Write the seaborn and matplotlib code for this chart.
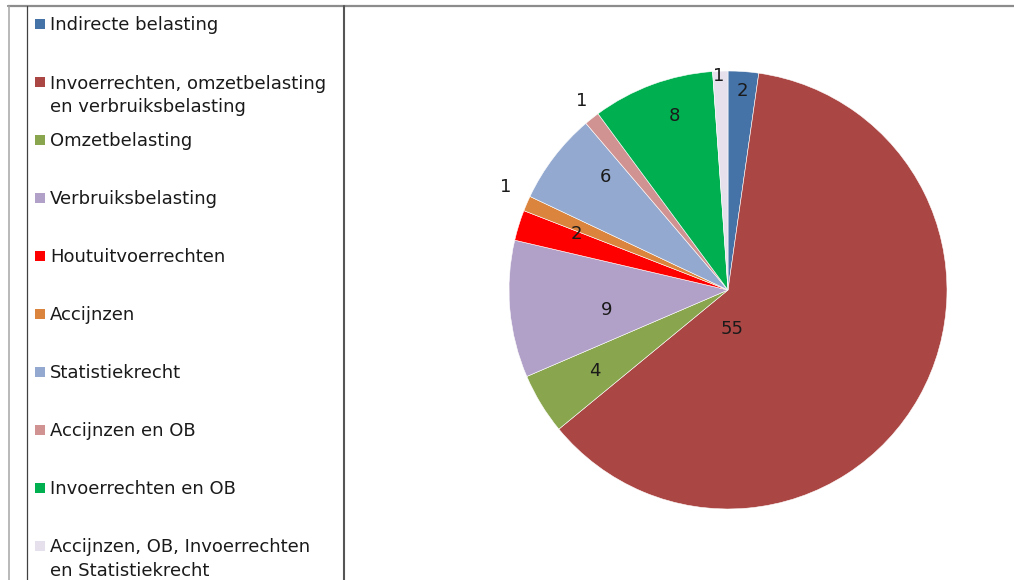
import matplotlib
matplotlib.use("Agg")
import matplotlib.pyplot as plt
from matplotlib.lines import Line2D
from matplotlib.patches import Rectangle
import numpy as np
import seaborn as sns

# ---- data ----
categories = [
    "Indirecte belasting",
    "Invoerrechten, omzetbelasting\nen verbruiksbelasting",
    "Omzetbelasting",
    "Verbruiksbelasting",
    "Houtuitvoerrechten",
    "Accijnzen",
    "Statistiekrecht",
    "Accijnzen en OB",
    "Invoerrechten en OB",
    "Accijnzen, OB, Invoerrechten\nen Statistiekrecht",
]
values = [2, 55, 4, 9, 2, 1, 6, 1, 8, 1]
colors = ["#4572A7", "#AA4643", "#89A54E", "#B1A0C7", "#FF0000",
          "#DB843D", "#93A9CF", "#D19392", "#00B050", "#E6E0EC"]

# label placement (radius fraction, clockwise angle shift in degrees)
label_radius = [0.91, 0.18, 0.71, 0.56, 0.74, 1.12, 0.76, 1.09, 0.83, 0.98]
label_shift = [0, 55, 0, -4.5, 3, 1.5, 5.4, 0.6, 3, -0.4]

sns.set_theme(style="white")
plt.rcParams["font.family"] = ["DejaVu Sans"]

W, H = 1014, 580
fig = plt.figure(figsize=(W / 100, H / 100), dpi=100)
fig.patch.set_facecolor("white")

def fx(x):
    return x / W

def fy(y):
    return 1 - y / H

# ---- pie ----
cx, cy, r = 728, 290, 219
half = r * 1.15
ax = fig.add_axes([fx(cx - half), (H - cy - half) / H, 2 * half / W, 2 * half / H])
wedges, _ = ax.pie(values, colors=colors, startangle=90, counterclock=False,
                   radius=1, wedgeprops=dict(edgecolor="white", linewidth=0.4))
ax.set_xlim(-1.15, 1.15)
ax.set_ylim(-1.15, 1.15)
ax.set_aspect("equal")
ax.axis("off")

for w, v, rf, sh in zip(wedges, values, label_radius, label_shift):
    mid = np.deg2rad((w.theta1 + w.theta2) / 2 - sh)
    ax.text(rf * np.cos(mid), rf * np.sin(mid), str(v), ha="center", va="center",
            fontsize=13, color="#1a1a1a")

# ---- frame lines ----
fig.add_artist(Line2D([fx(8), fx(W)], [fy(5.5), fy(5.5)], color="#8c8c8c", lw=1.6))
fig.add_artist(Line2D([fx(8.5), fx(8.5)], [fy(5.5), fy(H)], color="#a6a6a6", lw=1.1))
fig.add_artist(Line2D([fx(26.5), fx(26.5)], [fy(6), fy(H)], color="#404040", lw=0.9))
fig.add_artist(Line2D([fx(343.5), fx(343.5)], [fy(6), fy(H)], color="#555555", lw=1.5))

# ---- legend ----
for i, (lab, col) in enumerate(zip(categories, colors)):
    yc = 24 + 58 * i
    fig.add_artist(Rectangle((fx(34.5), fy(yc + 5)), 10 / W, 10 / H, facecolor=col,
                             edgecolor="none", transform=fig.transFigure))
    for k, line in enumerate(lab.split("\n")):
        fig.text(fx(50), fy(yc + 6.5 + 24 * k), line, ha="left", va="baseline",
                 fontsize=13, color="#1a1a1a")

fig.savefig("out.png", dpi=100, facecolor="white")
